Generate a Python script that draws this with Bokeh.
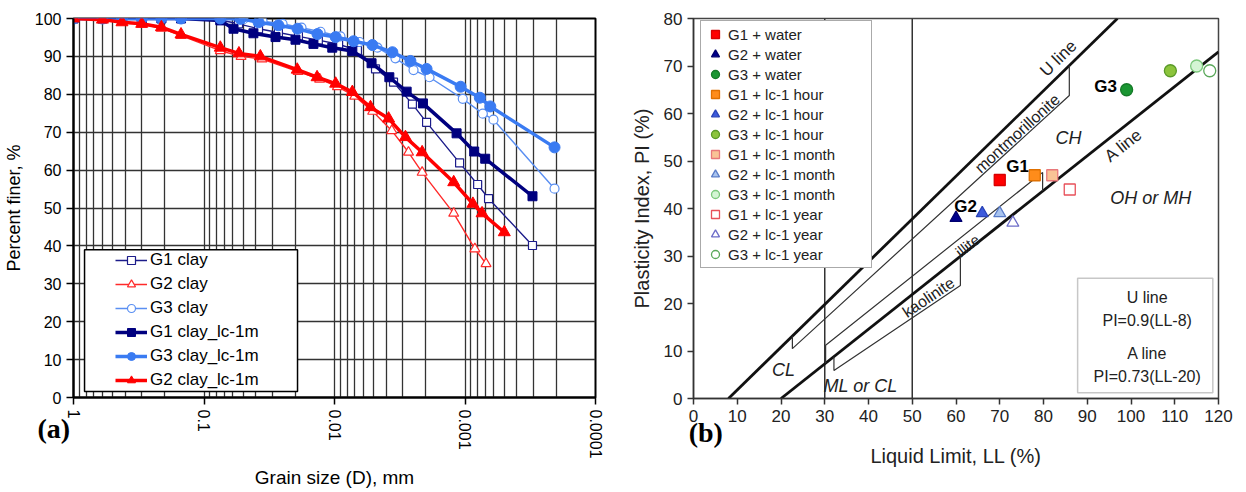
import math
from bokeh.plotting import figure
from bokeh.models import (Range1d, FixedTicker, Legend, LegendItem, Label,
                          BoxAnnotation, CustomJSTickFormatter)
from bokeh.layouts import row
from bokeh.embed import file_html
from bokeh.resources import INLINE
from bokeh.core.properties import value

FONT = "Liberation Sans"

# ---------------- data: (a) grain size distribution ----------------
G1_CLAY_D = [1.0, 0.6, 0.425, 0.3, 0.212, 0.15, 0.075, 0.0544, 0.0382, 0.0269, 0.0189,
             0.0133, 0.0093, 0.00667, 0.00485, 0.00353, 0.00253, 0.00197, 0.0011,
             0.0008, 0.00066, 0.000304]
G1_CLAY_P = [100, 100, 100, 100, 100, 100, 99.6, 98.6, 97.3, 96.3, 95.3,
             94.3, 93.2, 91.6, 86.7, 83.2, 77.4, 72.6, 61.9,
             56.2, 52.5, 40.1]

G2_CLAY_D = [1.0, 0.6, 0.425, 0.3, 0.212, 0.15, 0.075, 0.052, 0.036, 0.019, 0.013,
             0.0095, 0.007, 0.0051, 0.00364, 0.00271, 0.00213, 0.00122, 0.00084, 0.00069]
G2_CLAY_P = [100, 99.8, 99.2, 98.5, 97.4, 95.5, 91.5, 90.0, 89.3, 86.0, 84.0,
             82.0, 79.5, 75.5, 70.4, 64.7, 59.4, 48.6, 39.2, 35.3]

G3_CLAY_D = [1.0, 0.6, 0.425, 0.3, 0.212, 0.15, 0.075, 0.0498, 0.0356, 0.025, 0.0179,
             0.0128, 0.009, 0.00643, 0.00468, 0.00341, 0.00248, 0.00187, 0.00104,
             0.00073, 0.000605, 0.000206]
G3_CLAY_P = [100, 100, 100, 100, 100, 100, 100, 99.8, 99.3, 98.6, 97.6,
             96.5, 95.3, 93.8, 92.3, 89.5, 86.4, 84.5, 78.8,
             74.9, 73.3, 55.1]

G1_LC_D = [1.0, 0.6, 0.425, 0.3, 0.212, 0.15, 0.075, 0.0594, 0.0418, 0.0283, 0.0199,
           0.0145, 0.0104, 0.0073, 0.0052, 0.0038, 0.0028, 0.0021, 0.00116,
           0.00085, 0.0007, 0.000304]
G1_LC_P = [100, 100, 100, 100, 100, 100, 99.5, 97.3, 96.1, 95.1, 94.4,
           93.3, 92.3, 91.4, 88.2, 84.5, 80.7, 77.6, 69.7,
           64.9, 63.0, 53.1]

G3_LC_D = [1.0, 0.6, 0.425, 0.3, 0.212, 0.15, 0.075, 0.0525, 0.0382, 0.0269, 0.0192,
           0.0135, 0.0098, 0.00714, 0.00512, 0.0036, 0.00262, 0.00197, 0.00108,
           0.00077, 0.00064, 0.000206]
G3_LC_P = [100, 100, 100, 100, 100, 100, 100, 99.9, 99.0, 98.2, 97.3,
           95.9, 95.1, 94.0, 93.0, 91.1, 88.8, 86.7, 82.0,
           79.1, 76.8, 66.0]

G2_LC_D = [1.0, 0.6, 0.425, 0.3, 0.212, 0.15, 0.075, 0.054, 0.037, 0.0193, 0.0136,
           0.0098, 0.0073, 0.0053, 0.00385, 0.00286, 0.00213, 0.00122, 0.00087,
           0.00074, 0.0005]
G2_LC_P = [100, 99.7, 99.0, 98.6, 97.7, 95.8, 92.3, 90.8, 90.0, 86.5, 84.5,
           82.8, 80.6, 76.6, 73.6, 68.7, 64.7, 56.8, 51.1,
           48.6, 43.6]

X_MAJOR = [1, 0.1, 0.01, 0.001, 0.0001]
Y_TICKS_A = list(range(0, 101, 10))
PANEL_TAGS = ["(a)", "(b)"]

# ---------------- data: (b) plasticity chart ----------------
R_LABELS = ["G1 + water", "G2 + water", "G3 + water",
            "G1 + lc-1 hour", "G2 + lc-1 hour", "G3 + lc-1 hour",
            "G1 + lc-1 month", "G2 + lc-1 month", "G3 + lc-1 month",
            "G1 + lc-1 year", "G2 + lc-1 year", "G3 + lc-1 year"]
R_LL = [70, 60, 99, 78, 66, 109, 82, 70, 115, 86, 73, 118]
R_PI = [46, 38, 65, 47, 39, 69, 47, 39, 70, 44, 37, 69]
R_MARKER = ["square", "triangle", "circle"] * 4
R_FILL = ["#ff0000", "#00008b", "#1a9632",
          "#ff8c1a", "#3c5adc", "#8cc43c",
          "#f9c396", "#a9c4ee", "#d4f5d4",
          "white", "white", "white"]
R_LINE = ["#d80000", "#00006e", "#157a28",
          "#e07000", "#2a44b8", "#5a9a28",
          "#e8787a", "#5a7cc8", "#7cc87c",
          "#e8505a", "#6c6cc8", "#5aa85a"]

U_LL = [8, 96.9]
U_PI = [0, 80]
A_LL = [20, 120]
A_PI = [0, 73]
LL_BOUNDS = [30, 50]
MONT_LL = [22.6, 22.6, 85.9, 85.9]
MONT_PI = [13.1, 10.5, 63.8, 70.1]
ILL_LL = [30.2, 30.2, 79.8, 79.8]
ILL_PI = [7.4, 11.2, 47.6, 43.7]
KAO_LL = [32.1, 32.1, 61.0, 61.0]
KAO_PI = [8.8, 5.9, 23.8, 29.9]


def panel_tag(p, text, x, y):
    """Bold serif panel tag placed in a side panel (side panels are not clipped)."""
    p.add_layout(Label(x=x, y=y, x_units="data", y_units="data", text=text,
                       text_font="Liberation Serif", text_font_style="bold",
                       text_font_size="28px", text_baseline="middle", text_align="left",
                       text_color="black"), "below")


# ================= figure (a) =================
p1 = figure(x_axis_type="log", x_range=Range1d(1, 0.0001), y_range=Range1d(0, 100),
            frame_width=522, frame_height=379, min_border_left=65, min_border_right=18,
            min_border_top=18, min_border_bottom=90,
            output_backend="svg", toolbar_location=None)
p1.background_fill_color = "white"
p1.border_fill_color = "white"
p1.outline_line_color = "black"
p1.outline_line_width = 2

minor = [k * 10.0 ** (-n) for n in range(1, 5) for k in range(2, 10)]
p1.xaxis.ticker = FixedTicker(ticks=X_MAJOR, minor_ticks=minor)
p1.xgrid.ticker = FixedTicker(ticks=X_MAJOR, minor_ticks=minor)
p1.xaxis.formatter = CustomJSTickFormatter(code="return tick.toString();")
p1.xaxis.major_label_orientation = "vertical"
p1.yaxis.ticker = FixedTicker(ticks=Y_TICKS_A)
for ax in (p1.xaxis, p1.yaxis):
    ax.axis_line_color = "black"
    ax.axis_line_width = 2
    ax.major_tick_line_color = "black"
    ax.major_tick_line_width = 1.5
    ax.major_tick_out = 7
    ax.major_tick_in = 0
    ax.minor_tick_line_color = None
    ax.major_label_text_font = FONT
    ax.major_label_text_font_size = "16px"
    ax.major_label_text_color = "black"
    ax.axis_label_text_font = FONT
    ax.axis_label_text_font_style = "normal"
    ax.axis_label_text_color = "black"
p1.xaxis.axis_label_text_font_size = "19px"
p1.yaxis.axis_label_text_font_size = "18px"
p1.xaxis.axis_label = "Grain size (D), mm"
p1.yaxis.axis_label = "Percent finer, %"
p1.xaxis.axis_label_standoff = 6
p1.yaxis.axis_label_standoff = 8

for g in (p1.xgrid, p1.ygrid):
    g.grid_line_color = "#333333"
    g.grid_line_width = 1.3
p1.xgrid.minor_grid_line_color = "#333333"
p1.xgrid.minor_grid_line_width = 1.3

def series(d, pc, color, marker, size, lw, fill, thick):
    l = p1.line(d, pc, line_color=color, line_width=lw)
    s = p1.scatter(d, pc, marker=marker, size=size, line_color=color,
                   fill_color=fill, line_width=1.2 if not thick else 1)
    return [l, s]

r_g1 = series(G1_CLAY_D, G1_CLAY_P, "#1c1c8a", "square", 8, 1.4, "white", False)
r_g2 = series(G2_CLAY_D, G2_CLAY_P, "#ff2a2a", "triangle", 10, 1.4, "white", False)
r_g3 = series(G3_CLAY_D, G3_CLAY_P, "#5a8ff2", "circle", 9, 1.4, "white", False)
r_g1lc = series(G1_LC_D, G1_LC_P, "#00007f", "square", 9, 3.5, "#00007f", True)
r_g3lc = series(G3_LC_D, G3_LC_P, "#3a7bf2", "circle", 11, 3.5, "#3a7bf2", True)
r_g2lc = series(G2_LC_D, G2_LC_P, "#ff0000", "triangle", 12, 3.5, "#ff0000", True)

box_a = BoxAnnotation(left=0.823, right=0.0192, bottom=1.6, top=39.0,
                      fill_color="white", fill_alpha=1.0, line_color="black",
                      line_alpha=1.0, line_width=1.5, level="annotation")
p1.add_layout(box_a)
leg1 = Legend(items=[LegendItem(label="G1 clay", renderers=r_g1),
                     LegendItem(label="G2 clay", renderers=r_g2),
                     LegendItem(label="G3 clay", renderers=r_g3),
                     LegendItem(label="G1 clay_lc-1m", renderers=r_g1lc),
                     LegendItem(label="G3 clay_lc-1m", renderers=r_g3lc),
                     LegendItem(label="G2 clay_lc-1m", renderers=r_g2lc)],
              location=(42, 7), padding=0, spacing=4, glyph_height=20, label_height=20,
              glyph_width=32, label_standoff=3, border_line_color=None,
              background_fill_alpha=0.0, label_text_font=FONT,
              label_text_font_size="17px", label_text_color="black")
p1.add_layout(leg1)
panel_tag(p1, PANEL_TAGS[0], 1.89, -8.2)

# ================= figure (b) =================
p2 = figure(x_range=Range1d(0, 120), y_range=Range1d(0, 80),
            frame_width=525, frame_height=380, min_border_left=80, min_border_right=20,
            min_border_top=18, min_border_bottom=89,
            output_backend="svg", toolbar_location=None)
p2.grid.visible = False
p2.outline_line_color = "#444444"
p2.outline_line_width = 1.5
p2.xaxis.ticker = FixedTicker(ticks=list(range(0, 121, 10)))
p2.yaxis.ticker = FixedTicker(ticks=list(range(0, 81, 10)))
for ax in (p2.xaxis, p2.yaxis):
    ax.axis_line_color = "#333333"
    ax.axis_line_width = 1.5
    ax.major_tick_line_color = "#333333"
    ax.major_tick_line_width = 1.5
    ax.major_tick_out = 6
    ax.major_tick_in = 0
    ax.minor_tick_line_color = None
    ax.major_label_text_font = FONT
    ax.major_label_text_font_size = "17px"
    ax.major_label_text_color = "#222222"
    ax.axis_label_text_font = FONT
    ax.axis_label_text_font_size = "20px"
    ax.axis_label_text_font_style = "normal"
    ax.axis_label_text_color = "#222222"
p2.xaxis.axis_label = "Liquid Limit, LL (%)"
p2.yaxis.axis_label = "Plasticity Index, PI (%)"
p2.xaxis.major_label_standoff = 5
p2.xaxis.axis_label_standoff = 20
p2.yaxis.axis_label_standoff = 8

for b in LL_BOUNDS:
    p2.line([b, b], [0, 80], line_color="#333333", line_width=1.5)
p2.line(U_LL, U_PI, line_color="#111111", line_width=2.8)
p2.line(A_LL, A_PI, line_color="#111111", line_width=2.8)
for xs, ys in ((MONT_LL, MONT_PI), (ILL_LL, ILL_PI), (KAO_LL, KAO_PI)):
    p2.line(xs, ys, line_color="#333333", line_width=1.2)

# screen aspect for text rotation
kx = 525 / 120.0
ky = 380 / 80.0
def ang(xs, ys):
    return math.atan((ys[1] - ys[0]) / (xs[1] - xs[0]) * ky / kx)
a_u = ang(U_LL, U_PI)
a_a = ang(A_LL, A_PI)
a_m = ang(MONT_LL[1:3], MONT_PI[1:3])
a_k = ang(KAO_LL[1:3], KAO_PI[1:3])

ROT_TEXT = ["U line", "montmorillonite", "A line", "illite", "kaolinite"]
ROT_X = [83.4, 74.0, 98.3, 62.6, 53.7]
ROT_Y = [71.6, 55.8, 53.3, 32.2, 21.3]
ROT_A = [a_u, a_m, a_a, a_a, a_k]
ROT_SIZE = ["17px", "16px", "17px", "15px", "16px"]
for t, x, y, a, s in zip(ROT_TEXT, ROT_X, ROT_Y, ROT_A, ROT_SIZE):
    p2.text([x], [y], text=[t], angle=a, text_align="center", text_baseline="middle",
            text_font=value(FONT), text_font_size=s, text_color="#222222")

ZONE_TEXT = ["CH", "OH or MH", "CL", "ML or CL"]
ZONE_X = [85.7, 104.5, 20.6, 38.2]
ZONE_Y = [54.9, 42.3, 5.9, 2.7]
p2.text(ZONE_X, ZONE_Y, text=ZONE_TEXT, text_align="center", text_baseline="middle",
        text_font=value(FONT), text_font_size="18px", text_font_style="italic",
        text_color="#222222")

SAMPLE_TEXT = ["G1", "G2", "G3"]
SAMPLE_X = [74.1, 62.2, 94.2]
SAMPLE_Y = [48.8, 40.4, 65.7]
p2.text(SAMPLE_X, SAMPLE_Y, text=SAMPLE_TEXT, text_align="center", text_baseline="middle",
        text_font=value(FONT), text_font_size="17px", text_font_style="bold",
        text_color="black")

leg_items = []
for lab, x, y, m, fc, lc in zip(R_LABELS, R_LL, R_PI, R_MARKER, R_FILL, R_LINE):
    sz = 11 if m == "square" else 12
    r = p2.scatter([x], [y], marker=m, size=sz, fill_color=fc, line_color=lc, line_width=1.3)
    leg_items.append(LegendItem(label=lab, renderers=[r]))

box_b = BoxAnnotation(left=87.8, right=118.7, bottom=1.2, top=25.3, fill_color="white",
                      fill_alpha=1.0, line_color="#444444", line_width=1.5,
                      level="underlay")
p2.add_layout(box_b)
BOX_TEXT = ["U line", "PI=0.9(LL-8)", "A line", "PI=0.73(LL-20)"]
BOX_X = [103.7, 103.7, 103.7, 103.7]
BOX_Y = [21.3, 16.4, 9.5, 4.6]
p2.text(BOX_X, BOX_Y, text=BOX_TEXT, text_align="center", text_baseline="middle",
        text_font=value(FONT), text_font_size="16px", text_color="#222222")

leg2 = Legend(items=leg_items, location=(7, 130), padding=3, spacing=0,
              glyph_height=20, label_height=20, glyph_width=22, label_standoff=2,
              label_width=140, border_line_color="#555555", border_line_width=1.5,
              background_fill_color="white", background_fill_alpha=1.0,
              label_text_font=FONT, label_text_font_size="15px",
              label_text_color="#222222")
p2.add_layout(leg2)
panel_tag(p2, PANEL_TAGS[1], -1.1, -7.2)

layout = row(p1, p2)
open("out.html", "w").write(file_html(layout, INLINE))
